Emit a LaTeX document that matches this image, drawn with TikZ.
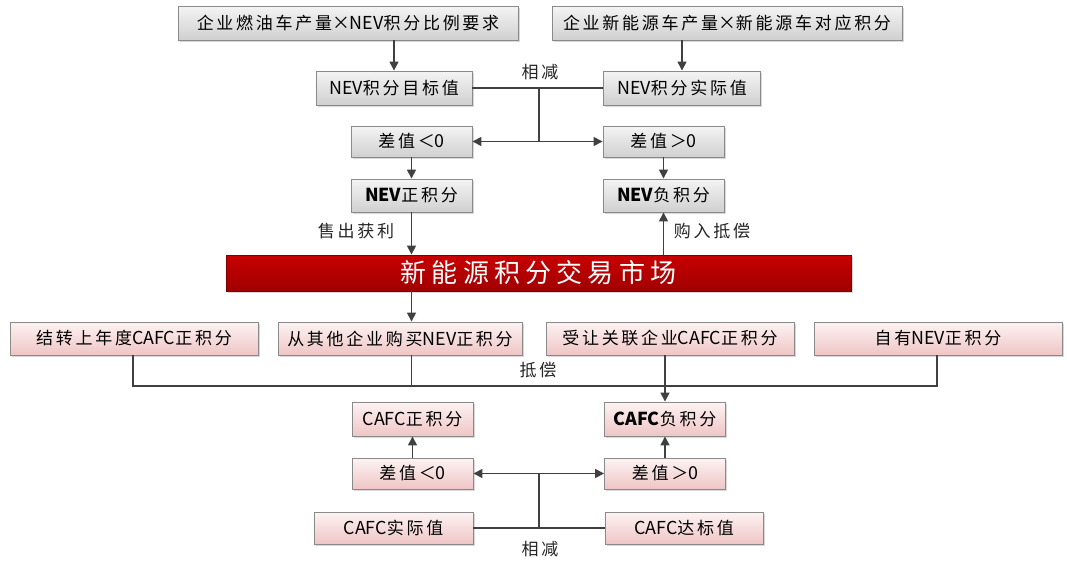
\documentclass[tikz,border=0pt]{standalone}
\usepackage{fontspec}
\setmainfont{Noto Sans CJK SC}[LetterSpace=16]
\newfontfamily\lat{Noto Sans CJK SC}[Scale=1.05]
\newfontfamily\barfont{Noto Sans CJK SC}[LetterSpace=20]
\usetikzlibrary{arrows.meta,shadows}
\definecolor{ln}{HTML}{404040}
\definecolor{bd}{HTML}{8A8A8A}
\definecolor{pinkT}{HTML}{FDF3F3}
\definecolor{pinkB}{HTML}{EFC5C5}
\definecolor{grayT}{HTML}{F4F4F4}
\definecolor{grayB}{HTML}{D0D0D0}
\definecolor{redT}{HTML}{C80000}
\definecolor{redB}{HTML}{A00000}
\tikzset{
  box/.style={draw=bd, line width=0.9pt, minimum height=34pt, inner sep=0pt,
    font=\fontsize{17}{19}\selectfont,
    drop shadow={shadow xshift=1.5pt, shadow yshift=-1.5pt, opacity=0.3}},
  gbox/.style={box, top color=grayT, bottom color=grayB},
  pbox/.style={box, top color=pinkT, bottom color=pinkB},
  redbar/.style={draw=redB!80!black, line width=0.9pt, top color=redT, bottom color=redB,
    minimum width=625pt, minimum height=36pt, inner sep=0pt, text=white,
    font=\fontsize{26}{28}\barfont,
    drop shadow={shadow xshift=1.5pt, shadow yshift=-1.5pt, opacity=0.3}},
  conn/.style={draw=ln, line width=1.5pt},
  arr/.style={conn, -{Triangle[length=9pt,width=9pt]}},
  lab/.style={font=\fontsize{17}{19}\selectfont, inner sep=0pt, text=black!85}
}
\begin{document}
\begin{tikzpicture}[x=1pt,y=-1pt]
\useasboundingbox[fill=white] (0,0) rectangle (1067,560);

% top part
\node[gbox, minimum width=340pt] (n1) at (348,23) {企业燃油车产量{\lat ×NEV}积分比例要求};
\node[gbox, minimum width=350pt] (n2) at (727,23) {企业新能源车产量{\lat ×}新能源车对应积分};
\node[gbox, minimum width=156pt] (n3) at (394,88) {{\lat NEV}积分目标值};
\node[gbox, minimum width=157pt] (n4) at (682,88) {{\lat NEV}积分实际值};
\node[gbox, minimum width=121pt, minimum height=31pt] (n5) at (411.5,141.5) {差值＜{\lat 0}};
\node[gbox, minimum width=121pt, minimum height=31pt] (n6) at (663.5,141.5) {差值＞{\lat 0}};
\node[gbox, minimum width=121pt, minimum height=33pt] (n7) at (411.5,195.5) {{\lat\bfseries NEV}正积分};
\node[gbox, minimum width=121pt, minimum height=33pt] (n8) at (663.5,195.5) {{\lat\bfseries NEV}负积分};

\node[redbar] (bar) at (538.5,273) {新能源积分交易市场};

% middle row
\node[pbox, minimum width=248pt, minimum height=33pt] (n10) at (134,338.5) {结转上年度{\lat CAFC}正积分};
\node[pbox, minimum width=244pt, minimum height=33pt] (n11) at (400,338.5) {从其他企业购买{\lat NEV}正积分};
\node[pbox, minimum width=248pt, minimum height=33pt] (n12) at (670,338.5) {受让关联企业{\lat CAFC}正积分};
\node[pbox, minimum width=248pt, minimum height=33pt] (n13) at (938,338.5) {自有{\lat NEV}正积分};

% bottom part
\node[pbox, minimum width=121pt] (n14) at (412.5,419) {{\lat CAFC}正积分};
\node[pbox, minimum width=121pt] (n15) at (665,419) {{\lat\bfseries CAFC}负积分};
\node[pbox, minimum width=121pt, minimum height=31pt] (n16) at (412.5,473.5) {差值＜{\lat 0}};
\node[pbox, minimum width=121pt, minimum height=31pt] (n17) at (665,473.5) {差值＞{\lat 0}};
\node[pbox, minimum width=159pt, minimum height=32pt] (n18) at (393.5,528) {{\lat CAFC}实际值};
\node[pbox, minimum width=158pt, minimum height=32pt] (n19) at (684,528) {{\lat CAFC}达标值};

% labels
\node[lab] (l1) at (540,72) {相减};
\node[lab] (l2) at (356,231) {售出获利};
\node[lab] (l3) at (712,231) {购入抵偿};
\node[lab] (l4) at (538,370) {抵偿};
\node[lab] (l5) at (540,549) {相减};

% coordinates
\coordinate (j1) at (539,88);
\coordinate (j2) at (539,141.5);
\coordinate (b1) at (133,386);
\coordinate (b2) at (937,386);
\coordinate (k1) at (539,528);
\coordinate (k2) at (539,473.5);

% connectors top
\draw[arr] (n1.south -| n3) -- (n3.north);
\draw[arr] (n2.south -| n4) -- (n4.north);
\draw[conn] (n3.east) -- (n4.west);
\draw[conn] (j1) -- (j2);
\draw[arr] (j2) -- (n5.east);
\draw[arr] (j2) -- (n6.west);
\draw[arr] (n5.south) -- (n7.north);
\draw[arr] (n6.south) -- (n8.north);
\draw[arr] (n7.south) -- (bar.north -| n7);
\draw[arr] (bar.north -| n8) -- (n8.south);
\draw[arr] (bar.south -| n7) -- (n11.north -| n7);

% bus
\draw[conn] (n10.south -| b1) -- (b1) -- (b2) -- (n13.south -| b2);
\draw[conn] (n11.south -| n7) -- (n7 |- b1);
\draw[arr] (n12.south -| n15) -- (n15.north);

% bottom
\draw[arr] (n16.north) -- (n14.south);
\draw[arr] (n17.north) -- (n15.south);
\draw[conn] (n18.east) -- (n19.west);
\draw[conn] (k1) -- (k2);
\draw[arr] (k2) -- (n16.east);
\draw[arr] (k2) -- (n17.west);
\end{tikzpicture}
\end{document}
